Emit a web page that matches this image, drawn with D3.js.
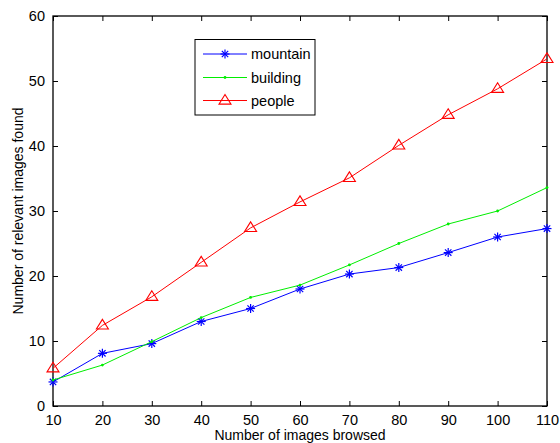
<!DOCTYPE html>
<html><head><meta charset="utf-8">
<script src="https://cdn.jsdelivr.net/npm/d3@7"></script>
<style>body{margin:0;background:#fff}svg{display:block}text{font-family:"Liberation Sans",Arial,Helvetica,sans-serif;fill:#000}</style>
</head><body>
<script>
const xValues = [10,20,30,40,50,60,70,80,90,100,110];
const mountain = [3.7,8.1,9.6,13.0,15.0,18.0,20.3,21.3,23.6,26.0,27.3];
const building = [4.0,6.3,9.9,13.6,16.7,18.6,21.7,25.0,28.0,30.0,33.6];
const people = [5.8,12.4,16.8,22.1,27.4,31.4,35.1,40.1,44.8,48.8,53.4];
const xTicks = [10,20,30,40,50,60,70,80,90,100,110];
const yTicks = [0,10,20,30,40,50,60];
const seriesNames = ["mountain","building","people"];
const seriesColors = ["#0000ff","#00ee00","#ff0000"];

(function(){
const W=560,H=443;
const svg=d3.select("body").append("svg").attr("width",W).attr("height",H);
const x=d3.scaleLinear().domain([10,110]).range([53,547]);
const y=d3.scaleLinear().domain([0,60]).range([406,16]);

const g=svg.append("g");
const axB=d3.axisBottom(x).tickValues(xTicks).tickSize(-5).tickPadding(9).tickFormat(d3.format("d"));
const axL=d3.axisLeft(y).tickValues(yTicks).tickSize(-5).tickPadding(8).tickFormat(d3.format("d"));
const axT=d3.axisTop(x).tickValues(xTicks).tickSize(-5).tickFormat("");
const axR=d3.axisRight(y).tickValues(yTicks).tickSize(-5).tickFormat("");
function style(sel){sel.select(".domain").remove();sel.selectAll("line").attr("stroke","#000").attr("stroke-width",1);sel.selectAll("text").attr("font-size",14.5).style("font-family",'"Liberation Sans",Arial,sans-serif').attr("fill","#000");}
g.append("g").attr("transform","translate(0,406)").call(axB).call(style);
g.append("g").attr("transform","translate(53,0)").call(axL).call(style);
g.append("g").attr("transform","translate(0,16)").call(axT).call(style);
g.append("g").attr("transform","translate(547,0)").call(axR).call(style);
svg.append("rect").attr("x",53).attr("y",16).attr("width",494).attr("height",390).attr("fill","none").attr("stroke","#000").attr("stroke-width",1.3);

svg.append("text").attr("x",300).attr("y",440).attr("text-anchor","middle").attr("font-size",14).text("Number of images browsed");
svg.append("text").attr("transform","translate(23,211) rotate(-90)").attr("text-anchor","middle").attr("font-size",14).text("Number of relevant images found");

const data=[mountain,building,people];
const line=d3.line().x((d,i)=>x(xValues[i])).y(d=>y(d));
function marker(sel,k,cx,cy,c){
  if(k===0){
    const r=4.5;
    [[0,1],[1,0],[0.707,0.707],[0.707,-0.707]].forEach(([a,b])=>{
      sel.append("line").attr("x1",cx-r*a).attr("y1",cy-r*b).attr("x2",cx+r*a).attr("y2",cy+r*b).attr("stroke",c).attr("stroke-width",1.2);
    });
  } else if(k===1){
    sel.append("circle").attr("cx",cx).attr("cy",cy).attr("r",1.4).attr("fill",c);
  } else {
    const s=6;
    sel.append("path").attr("d",`M${cx},${cy-s}L${cx+s},${cy+s*0.6}L${cx-s},${cy+s*0.6}Z`).attr("fill","none").attr("stroke",c).attr("stroke-width",1.1);
  }
}
data.forEach((arr,k)=>{
  svg.append("path").datum(arr).attr("d",line).attr("fill","none").attr("stroke",seriesColors[k]).attr("stroke-width",1);
  const mg=svg.append("g");
  arr.forEach((v,i)=>marker(mg,k,x(xValues[i]),y(v),seriesColors[k]));
});

const lg=svg.append("g");
lg.append("rect").attr("x",195).attr("y",39.5).attr("width",120).attr("height",75.5).attr("fill","#fff").attr("stroke","#000").attr("stroke-width",1);
const ly=[54,77.5,100.5];
seriesNames.forEach((n,k)=>{
  lg.append("line").attr("x1",203).attr("x2",247).attr("y1",ly[k]).attr("y2",ly[k]).attr("stroke",seriesColors[k]).attr("stroke-width",1);
  marker(lg,k,225,ly[k],seriesColors[k]);
  lg.append("text").attr("x",251).attr("y",ly[k]+5).attr("font-size",14.5).text(n);
});
})();
</script>
</body></html>
